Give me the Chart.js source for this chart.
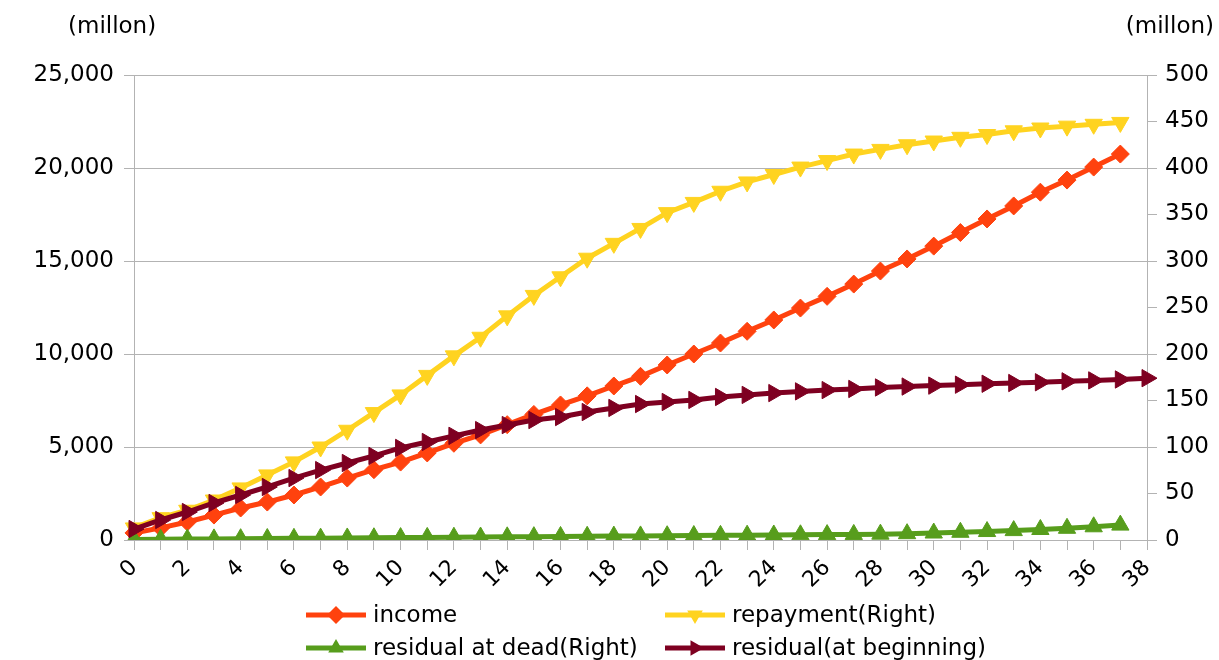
<!DOCTYPE html>
<html>
<head>
<meta charset="utf-8">
<script src="https://cdn.jsdelivr.net/npm/chart.js@4"></script>
<style>
  html, body { margin: 0; padding: 0; background: #fff; }
  #wrap { width: 1219px; height: 660px; }
</style>
</head>
<body>
<div id="wrap"><canvas id="chart"></canvas></div>
<script>
const years = ['0','1','2','3','4','5','6','7','8','9','10','11','12','13','14','15','16','17','18','19',
  '20','21','22','23','24','25','26','27','28','29','30','31','32','33','34','35','36','37','38'];

// left axis (millon)
const income = [380, 650, 970, 1340, 1720, 2040, 2420, 2850, 3330, 3780, 4190, 4680, 5200, 5650, 6200,
  6750, 7260, 7750, 8280, 8800, 9410, 10000, 10590, 11220, 11830, 12470, 13100, 13760, 14460, 15110,
  15800, 16530, 17260, 17960, 18700, 19350, 20050, 20750];
const residualBeginning = [590, 1075, 1505, 1990, 2420, 2850, 3330, 3760, 4140, 4520, 4950, 5270, 5600,
  5910, 6180, 6450, 6610, 6880, 7100, 7310, 7420, 7530, 7690, 7800, 7900, 7990, 8060, 8120, 8200, 8250,
  8300, 8350, 8400, 8440, 8480, 8530, 8580, 8630, 8700];

// right axis (millon)
const repayment = [13, 24, 32, 43, 56, 70, 84, 100, 118, 137, 156, 177, 198, 218, 241, 263, 283, 303,
  319, 335, 352, 363, 375, 385, 393, 401, 408, 415, 420, 425, 429, 433, 436, 440, 443, 445, 447, 449];
const residualAtDead = [0.5, 0.8, 1, 1.2, 1.4, 1.6, 1.8, 2, 2.2, 2.4, 2.6, 2.8, 3, 3.2, 3.4, 3.6, 3.8, 4,
  4.2, 4.4, 4.6, 4.8, 5, 5.2, 5.4, 5.6, 5.8, 6.0, 6.3, 6.8, 7.5, 8.3, 9.1, 10.1, 11.3, 12.6, 14.2, 16];

const leftMax = 25000, leftStep = 5000;
const rightMax = 500, rightStep = 50;

const gridGray = '#b3b3b3';
const tickFont = { family: 'DejaVu Sans', size: 23 };

function drawMarker(ctx, style, rotation, r, x, y) {
  ctx.save();
  ctx.translate(x, y);
  ctx.rotate(rotation * Math.PI / 180);
  ctx.beginPath();
  if (style === 'rectRot') {
    ctx.moveTo(0, -r); ctx.lineTo(r, 0); ctx.lineTo(0, r); ctx.lineTo(-r, 0);
  } else {
    ctx.moveTo(0, -r);
    ctx.lineTo(r * Math.sin(2 * Math.PI / 3), -r * Math.cos(2 * Math.PI / 3));
    ctx.lineTo(r * Math.sin(4 * Math.PI / 3), -r * Math.cos(4 * Math.PI / 3));
  }
  ctx.closePath();
  ctx.fill();
  ctx.restore();
}

// axis titles and the two-column legend
const extras = {
  id: 'extras',
  afterDraw(chart) {
    const ctx = chart.ctx;
    ctx.save();
    ctx.fillStyle = '#000';
    ctx.font = '23px "DejaVu Sans"';
    ctx.textBaseline = 'middle';
    ctx.textAlign = 'left';
    ctx.fillText('(millon)', 68, 27);
    ctx.textAlign = 'right';
    ctx.fillText('(millon)', 1214, 27);

    const spots = [[306, 615], [665, 615], [306, 648], [665, 648]];
    ctx.textAlign = 'left';
    chart.data.datasets.forEach((ds, i) => {
      const [x, y] = spots[i];
      ctx.strokeStyle = ds.borderColor;
      ctx.fillStyle = ds.borderColor;
      ctx.lineWidth = 5;
      ctx.beginPath();
      ctx.moveTo(x, y);
      ctx.lineTo(x + 60, y);
      ctx.stroke();
      drawMarker(ctx, ds.pointStyle, ds.pointRotation || 0, 9, x + 30, y);
      ctx.fillStyle = '#000';
      ctx.fillText(ds.label, x + 67, y + 1);
    });
    ctx.restore();
  }
};

function series(label, data, color, axis, style, rotation, radius, order) {
  return {
    label, data, yAxisID: axis,
    borderColor: color, backgroundColor: color,
    borderWidth: 5, tension: 0,
    pointStyle: style, pointRotation: rotation, pointRadius: radius,
    pointBackgroundColor: color, pointBorderColor: color, pointBorderWidth: 1,
    order
  };
}

new Chart(document.getElementById('chart'), {
  type: 'line',
  data: {
    labels: years,
    datasets: [
      series('income', income, '#ff420e', 'y', 'rectRot', 0, 9, 3),
      series('repayment(Right)', repayment, '#ffd320', 'y2', 'triangle', 180, 10, 4),
      series('residual at dead(Right)', residualAtDead, '#579d1c', 'y2', 'triangle', 0, 10, 2),
      series('residual(at beginning)', residualBeginning, '#7e0021', 'y', 'triangle', 90, 10, 1)
    ]
  },
  options: {
    responsive: true,
    maintainAspectRatio: false,
    animation: false,
    layout: { padding: { left: 0, right: 0, top: 75, bottom: 60 } },
    plugins: {
      legend: { display: false },
      tooltip: { enabled: false }
    },
    scales: {
      x: {
        afterFit: s => { s.height = 60; },
        grid: { drawOnChartArea: false, tickLength: 10, color: gridGray },
        border: { color: gridGray },
        ticks: {
          autoSkip: false, maxRotation: 45, minRotation: 45, padding: 5,
          color: '#000', font: { family: 'DejaVu Sans', size: 22 },
          callback: function (v, i) { return i % 2 === 0 ? this.getLabelForValue(v) : ''; }
        }
      },
      y: {
        position: 'left', min: 0, max: leftMax,
        afterFit: s => { s.width = 134; },
        grid: { color: gridGray, tickLength: 10 },
        border: { color: gridGray },
        ticks: {
          stepSize: leftStep, padding: 10, color: '#000', font: tickFont,
          callback: v => v.toLocaleString('en-US')
        }
      },
      y2: {
        position: 'right', min: 0, max: rightMax,
        afterFit: s => { s.width = 72; },
        grid: { drawOnChartArea: false, color: gridGray, tickLength: 10 },
        border: { color: gridGray },
        ticks: { stepSize: rightStep, padding: 8, color: '#000', font: tickFont }
      }
    }
  },
  plugins: [extras]
});
</script>
</body>
</html>
